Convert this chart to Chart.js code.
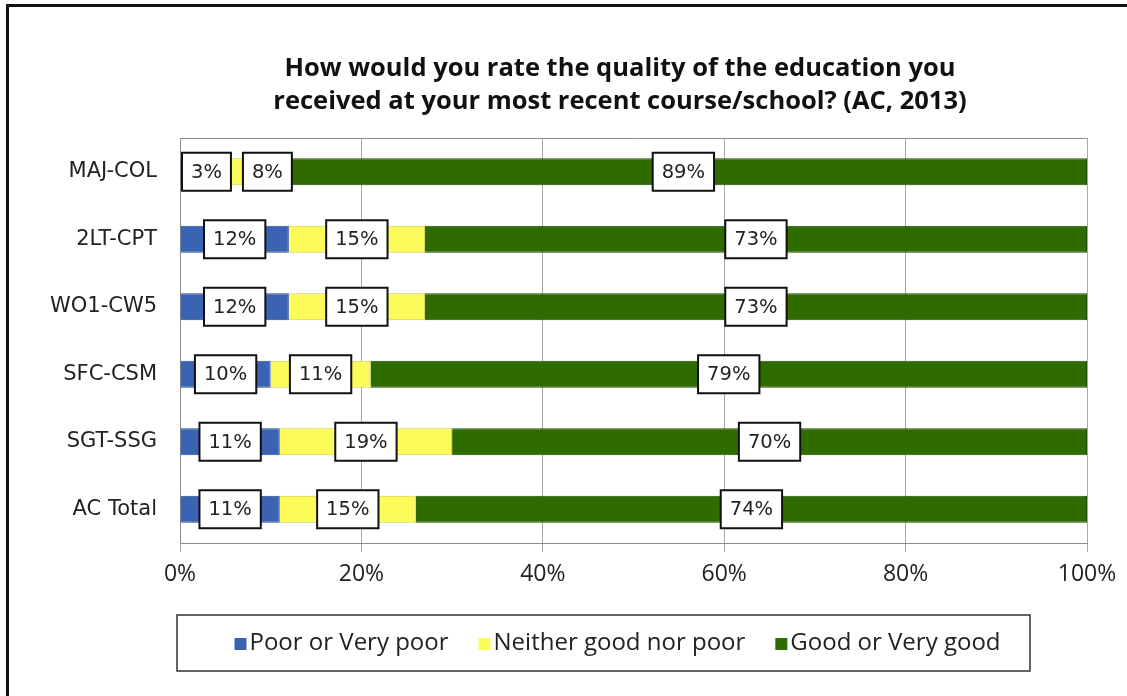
<!DOCTYPE html>
<html>
<head>
<meta charset="utf-8">
<script src="https://cdn.jsdelivr.net/npm/chart.js@4.4.0/dist/chart.umd.min.js"></script>
<style>
  html, body { margin: 0; padding: 0; background: #fff; }
  #wrap { position: relative; width: 1127px; height: 696px; }
  #frame { position: absolute; left: 6px; top: 4px; right: 0; bottom: 0;
           border-left: 3px solid #111; border-top: 3px solid #111; pointer-events: none; }
</style>
</head>
<body>
<div id="wrap">
  <canvas id="chart" width="1127" height="696"></canvas>
  <div id="frame"></div>
</div>
<script>
// data (percent of respondents)
const categories = ["MAJ-COL", "2LT-CPT", "WO1-CW5", "SFC-CSM", "SGT-SSG", "AC Total"];
const poorValues = [3, 12, 12, 10, 11, 11];
const neitherValues = [8, 15, 15, 11, 19, 15];
const goodValues = [89, 73, 73, 79, 70, 74];
const seriesNames = ["Poor or Very poor", "Neither good nor poor", "Good or Very good"];
const xTicks = [0, 20, 40, 60, 80, 100];

const titleLines = [
  "How would you rate the quality of the education you",
  "received at your most recent course/school? (AC, 2013)",
];

// white boxed value labels, pushed right when they would overlap
const boxLabels = {
  id: "boxLabels",
  afterDatasetsDraw(chart) {
    const ctx = chart.ctx;
    const area = chart.chartArea;
    ctx.save();
    ctx.font = "19.5px 'DejaVu Sans'";
    ctx.textAlign = "center";
    ctx.textBaseline = "middle";
    categories.forEach((_, i) => {
      let prevRight = -Infinity;
      chart.data.datasets.forEach((ds, d) => {
        const bar = chart.getDatasetMeta(d).data[i];
        const txt = ds.data[i] + "%";
        const w = ctx.measureText(txt).width + 18;
        const h = 38;
        let left = (bar.x + bar.base) / 2 - w / 2;
        if (left < area.left + 2) left = area.left + 2;
        if (left < prevRight + 12) left = prevRight + 12;
        prevRight = left + w;
        const top = bar.y - h / 2;
        ctx.fillStyle = "#fff";
        ctx.fillRect(left, top, w, h);
        ctx.lineWidth = 2;
        ctx.strokeStyle = "#111";
        ctx.strokeRect(left, top, w, h);
        ctx.fillStyle = "#222";
        ctx.fillText(txt, left + w / 2, bar.y + 1);
      });
    });
    ctx.restore();
  },
};

// title, plot frame top line, boxed legend under the axis
const frameAndLegend = {
  id: "frameAndLegend",
  beforeDatasetsDraw(chart) {
    const { ctx, chartArea: a } = chart;
    ctx.save();
    ctx.strokeStyle = "#8c8c8c";
    ctx.lineWidth = 1;
    ctx.beginPath();
    ctx.moveTo(a.left, a.top + 0.5);
    ctx.lineTo(a.right, a.top + 0.5);
    ctx.stroke();
    ctx.restore();
  },
  afterDraw(chart) {
    const ctx = chart.ctx;
    ctx.save();
    // title
    ctx.font = "bold 25.5px 'Open Sans'";
    ctx.fillStyle = "#111";
    ctx.textAlign = "center";
    ctx.textBaseline = "middle";
    titleLines.forEach((line, k) => ctx.fillText(line, 620, 69 + k * 33));

    // legend
    const box = { left: 177, top: 615, right: 1030, bottom: 671 };
    ctx.lineWidth = 1.5;
    ctx.strokeStyle = "#333";
    ctx.strokeRect(box.left, box.top, box.right - box.left, box.bottom - box.top);
    ctx.font = "24px 'Open Sans'";
    ctx.textAlign = "left";
    const sq = 12, gapText = 3, gapItem = 30;
    const items = chart.data.datasets.map((ds) => ({
      label: ds.label,
      color: ds.backgroundColor,
      w: sq + gapText + ctx.measureText(ds.label).width,
    }));
    const total = items.reduce((s, it) => s + it.w, 0) + gapItem * (items.length - 1);
    let x = (box.left + box.right) / 2 + 14 - total / 2;
    const cy = (box.top + box.bottom) / 2;
    items.forEach((it) => {
      ctx.fillStyle = it.color;
      ctx.fillRect(x, cy - sq / 2 + 1, sq, sq);
      ctx.fillStyle = "#222";
      ctx.fillText(it.label, x + sq + gapText, cy);
      x += it.w + gapItem;
    });
    ctx.restore();
  },
};

const ctx = document.getElementById("chart").getContext("2d");
new Chart(ctx, {
  type: "bar",
  data: {
    labels: categories,
    datasets: [
      { label: seriesNames[0], data: poorValues, backgroundColor: "#3a64b2", borderColor: "#2b4c8a" },
      { label: seriesNames[1], data: neitherValues, backgroundColor: "#fbfb5a", borderColor: "#cfcf40" },
      { label: seriesNames[2], data: goodValues, backgroundColor: "#2f6c00", borderColor: "#214d00" },
    ],
  },
  options: {
    responsive: false,
    animation: false,
    indexAxis: "y",
    layout: { padding: { left: 10, right: 40, top: 138, bottom: 0 } },
    datasets: { bar: { borderWidth: 1, barPercentage: 0.4, categoryPercentage: 1 } },
    plugins: {
      legend: { display: false },
      tooltip: { enabled: false },
      title: { display: false },
    },
    scales: {
      x: {
        stacked: true,
        min: 0,
        max: 100,
        afterBuildTicks: (s) => { s.ticks = xTicks.map((v) => ({ value: v })); },
        afterFit: (s) => { s.height = 153; },
        ticks: {
          callback: (v) => v + "%",
          color: "#222",
          padding: 9,
          font: { family: "'Open Sans'", size: 23 },
        },
        grid: { color: "#a8a8a8", lineWidth: 1, tickLength: 9 },
        border: { color: "#8c8c8c" },
      },
      y: {
        stacked: true,
        afterFit: (s) => { s.width = 170; },
        ticks: {
          color: "#222",
          padding: 23,
          font: { family: "'DejaVu Sans'", size: 21 },
        },
        grid: { display: false, drawTicks: false },
        border: { display: true, color: "#8c8c8c" },
      },
    },
  },
  plugins: [frameAndLegend, boxLabels],
});
</script>
</body>
</html>
